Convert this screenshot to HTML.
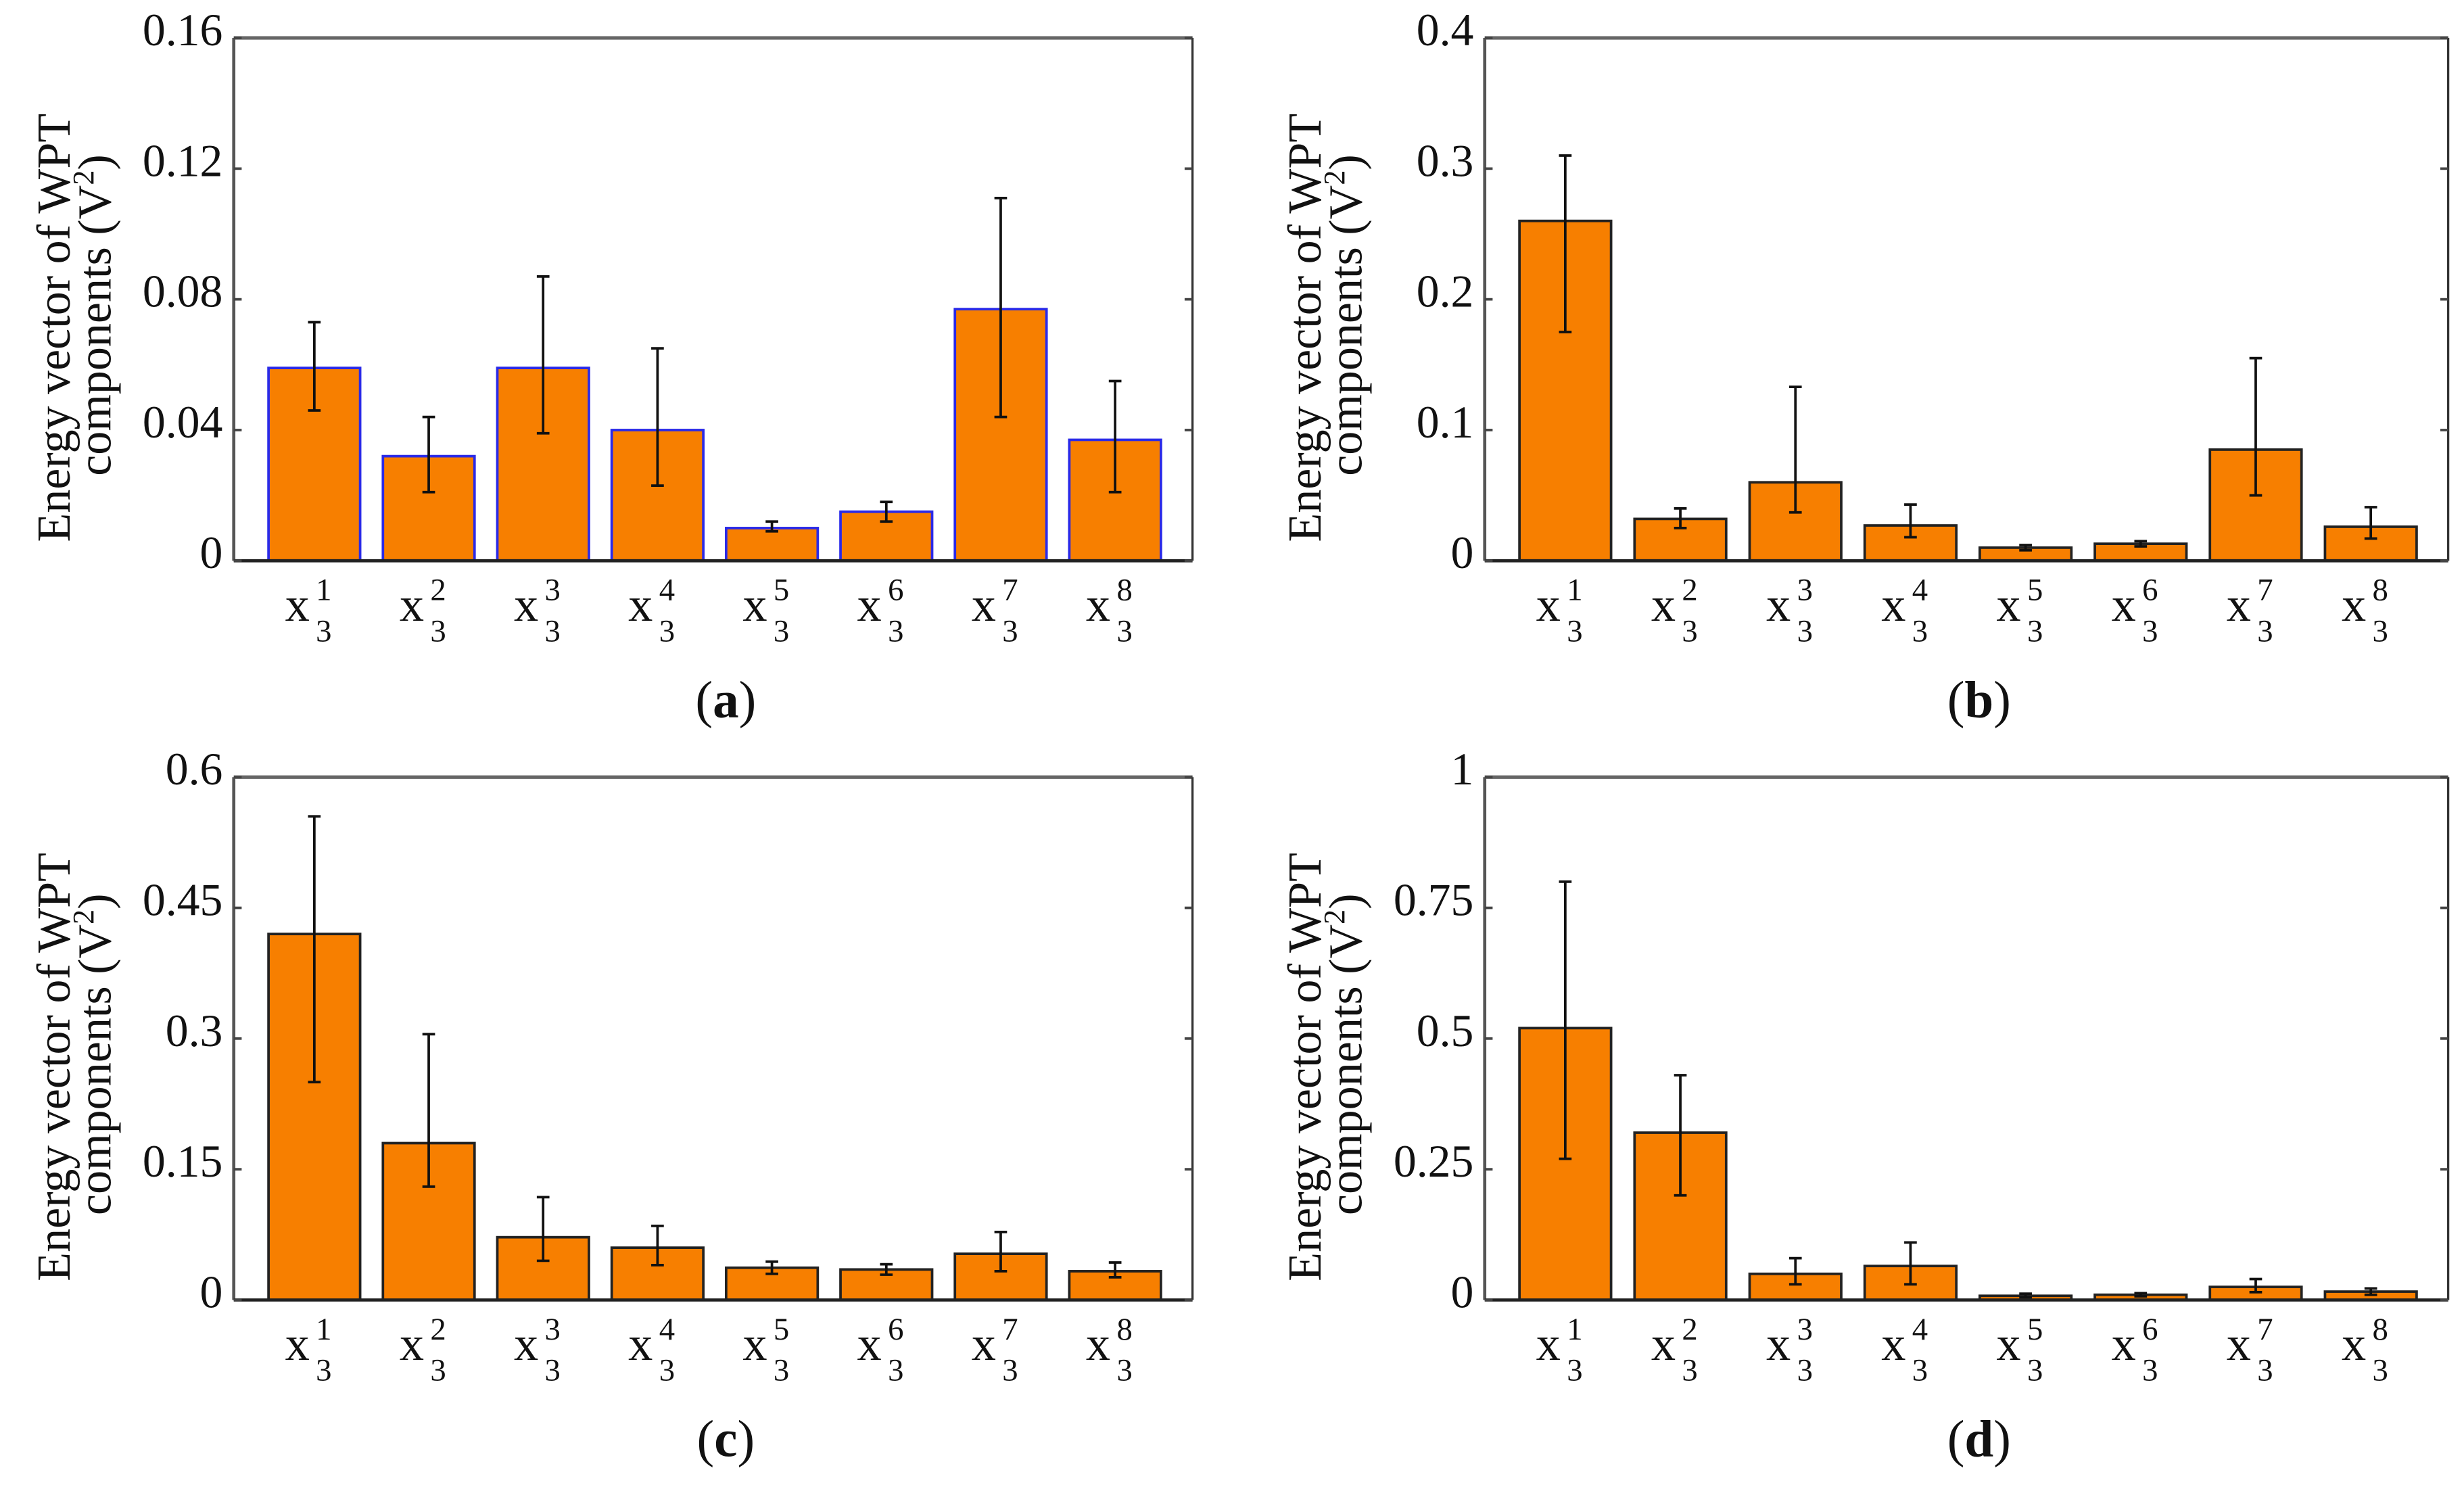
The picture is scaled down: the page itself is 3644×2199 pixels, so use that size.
<!DOCTYPE html>
<html><head><meta charset="utf-8">
<style>
html,body{margin:0;padding:0;background:#fff;}
svg{display:block;}
text{font-family:"Liberation Serif",serif;fill:#111;}
</style></head>
<body>
<svg id="fig" xmlns="http://www.w3.org/2000/svg" width="3644" height="2199" viewBox="0 0 1560 941.4"></svg>
<script>
const categories = ["1","2","3","4","5","6","7","8"];
const valuesA = [0.059,0.032,0.059,0.040,0.010,0.015,0.077,0.037];
const lowA = [0.046,0.021,0.039,0.023,0.009,0.012,0.044,0.021];
const highA = [0.073,0.044,0.087,0.065,0.012,0.018,0.111,0.055];
const ticksA = [0,0.04,0.08,0.12,0.16];
const tickLabelsA = ["0","0.04","0.08","0.12","0.16"];
const valuesB = [0.26,0.032,0.06,0.027,0.010,0.013,0.085,0.026];
const lowB = [0.175,0.025,0.037,0.018,0.008,0.011,0.050,0.017];
const highB = [0.31,0.040,0.133,0.043,0.012,0.015,0.155,0.041];
const ticksB = [0,0.1,0.2,0.3,0.4];
const tickLabelsB = ["0","0.1","0.2","0.3","0.4"];
const valuesC = [0.42,0.18,0.072,0.060,0.037,0.035,0.053,0.033];
const lowC = [0.25,0.13,0.045,0.040,0.030,0.029,0.033,0.026];
const highC = [0.555,0.305,0.118,0.085,0.044,0.041,0.078,0.043];
const ticksC = [0,0.15,0.3,0.45,0.6];
const tickLabelsC = ["0","0.15","0.3","0.45","0.6"];
const valuesD = [0.52,0.32,0.050,0.065,0.008,0.010,0.025,0.016];
const lowD = [0.27,0.20,0.030,0.030,0.005,0.007,0.015,0.010];
const highD = [0.80,0.43,0.080,0.110,0.012,0.013,0.040,0.022];
const ticksD = [0,0.25,0.5,0.75,1];
const tickLabelsD = ["0","0.25","0.5","0.75","1"];

const NS="http://www.w3.org/2000/svg";
const svg=document.getElementById('fig');
function mk(tag,attrs,parent){const e=document.createElementNS(NS,tag);for(const k in attrs)e.setAttribute(k,attrs[k]);(parent||svg).appendChild(e);return e;}

function panel(id,L,R,T,B,vals,lo,hi,ticks,tlabels,edge,cap){
  const g=mk('g',{});
  
  
  const ymax=ticks[ticks.length-1];
  const y=v=>B-(v/ymax)*(B-T);
  const xc=i=>L+51+i*((R-L-100)/7);
  const bw=58;
  // bars
  vals.forEach((v,i)=>{
    const r=mk('rect',{x:xc(i)-bw/2,y:y(v),width:bw,height:B-y(v),fill:'#f77f00',stroke:edge,'stroke-width':1.6},g);
    
    
  });
  // error bars
  vals.forEach((v,i)=>{
    const eg=mk('g',{stroke:'#111','stroke-width':1.6},g);
    
    
    const x=xc(i);
    mk('line',{x1:x,x2:x,y1:y(lo[i]),y2:y(hi[i])},eg);
    mk('line',{x1:x-4,x2:x+4,y1:y(lo[i]),y2:y(lo[i])},eg);
    mk('line',{x1:x-4,x2:x+4,y1:y(hi[i]),y2:y(hi[i])},eg);
  });
  // frame
  const fr=mk('g',{fill:'none'},g);
  
  
  mk('line',{x1:L,x2:R,y1:T,y2:T,stroke:'#666','stroke-width':2.2},fr);
  mk('line',{x1:L,x2:L,y1:T,y2:B,stroke:'#555','stroke-width':2},fr);
  mk('line',{x1:R,x2:R,y1:T,y2:B,stroke:'#333','stroke-width':1.4},fr);
  mk('line',{x1:L,x2:R,y1:B,y2:B,stroke:'#222','stroke-width':2},fr);
  // ticks
  ticks.forEach((t,i)=>{
    const yy=y(t);
    mk('line',{x1:L,x2:L+5,y1:yy,y2:yy,stroke:'#444','stroke-width':1.6},g);
    mk('line',{x1:R-5,x2:R,y1:yy,y2:yy,stroke:'#444','stroke-width':1.6},g);
    const tx=mk('text',{x:L-7,y:yy+4.7,'text-anchor':'end','font-size':29},g);
    
    
    tx.textContent=tlabels[i];
  });
  // x labels
  categories.forEach((c,i)=>{
    const x=xc(i);
    const lg=mk('g',{},g);
    
    
    const t1=mk('text',{x:x-3,y:B+38,'text-anchor':'end','font-size':31},lg); t1.textContent='x';
    const t2=mk('text',{x:x+6,y:B+25,'text-anchor':'middle','font-size':20},lg); t2.textContent=c;
    const t3=mk('text',{x:x+6,y:B+51,'text-anchor':'middle','font-size':20},lg); t3.textContent='3';
  });
  // y title
  const cy=(T+B)/2+18;
  const yt=mk('text',{transform:`translate(${L-104},${cy}) rotate(-90)`,'text-anchor':'middle','font-size':30},g);
  
  
  yt.textContent='Energy vector of WPT';
  const yt2=mk('text',{transform:`translate(${L-78},${cy-8}) rotate(-90)`,'text-anchor':'middle','font-size':30},g);
  
  
  yt2.innerHTML='components (V<tspan font-size="19" dy="-11">2</tspan><tspan dy="11">)</tspan>';
  // caption
  const cp=mk('text',{x:(L+R)/2+8,y:B+99,'text-anchor':'middle','font-size':33},g);
  
  
  cp.innerHTML='(<tspan font-weight="bold">'+id+'</tspan>)';
}
panel('a',148,755,24,355,valuesA,lowA,highA,ticksA,tickLabelsA,'#2a2ae8');
panel('b',940,1550,24,355,valuesB,lowB,highB,ticksB,tickLabelsB,'#222');
panel('c',148,755,492,823,valuesC,lowC,highC,ticksC,tickLabelsC,'#222');
panel('d',940,1550,492,823,valuesD,lowD,highD,ticksD,tickLabelsD,'#222');
</script>
</body></html>
